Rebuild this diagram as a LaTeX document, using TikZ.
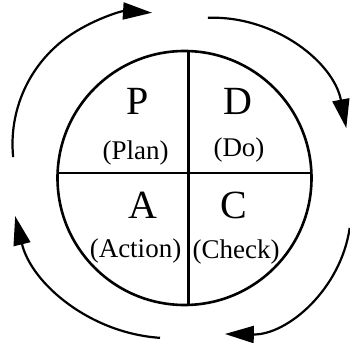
\documentclass[tikz,border=0pt]{standalone}
\usepackage{fontspec}
\setmainfont{Liberation Serif}
\usetikzlibrary{arrows.meta,calc}

\begin{document}
\begin{tikzpicture}[x=1pt,y=1pt,
    big/.style={inner sep=0pt,font=\fontsize{40}{44}\selectfont},
    small/.style={inner sep=0pt,font=\fontsize{27}{30}\selectfont},
    cyc/.style={line width=2.2pt,-{Triangle[length=29pt,width=17pt]}}]
  \useasboundingbox (0,0) rectangle (350,342); % same frame as the reference
  % the wheel
  \coordinate (o) at (184.5,164);
  \draw[line width=2.6pt] (o) circle (127);
  \draw[line width=2.7pt] (57.6,169) -- (311.4,169);
  \draw[line width=3pt] (188,291) -- (188,37);
  % the four quarters
  \node[big] (p) at (138,240.5) {P};
  \node[small] (plan) at (135.5,188.5) {(Plan)};
  \node[big] (d) at (237.5,240.5) {D};
  \node[small] (do) at (239,192) {(Do)};
  \node[big] (a) at (142.5,137) {A};
  \node[small] (action) at (135.5,91) {(Action)};
  \node[big] (c) at (234,137) {C};
  \node[small] (check) at (236,90) {(Check)};
  % the cycle arrows round it
  \draw[cyc] ($(144,198)+(185.7:131.5)$) arc[start angle=185.7,end angle=86.5,radius=131.5];
  \draw[cyc] ($(212.7,188.3)+(92:136)$) arc[start angle=92,end angle=10.8,radius=136];
  \draw[cyc] ($(227,132)+(-8.3:124)$) arc[start angle=-8.3,end angle=-91,radius=124];
  \draw[cyc] ($(170.6,163.8)+(266.2:160)$) arc[start angle=266.2,end angle=193.7,radius=160];
\end{tikzpicture}
\end{document}
